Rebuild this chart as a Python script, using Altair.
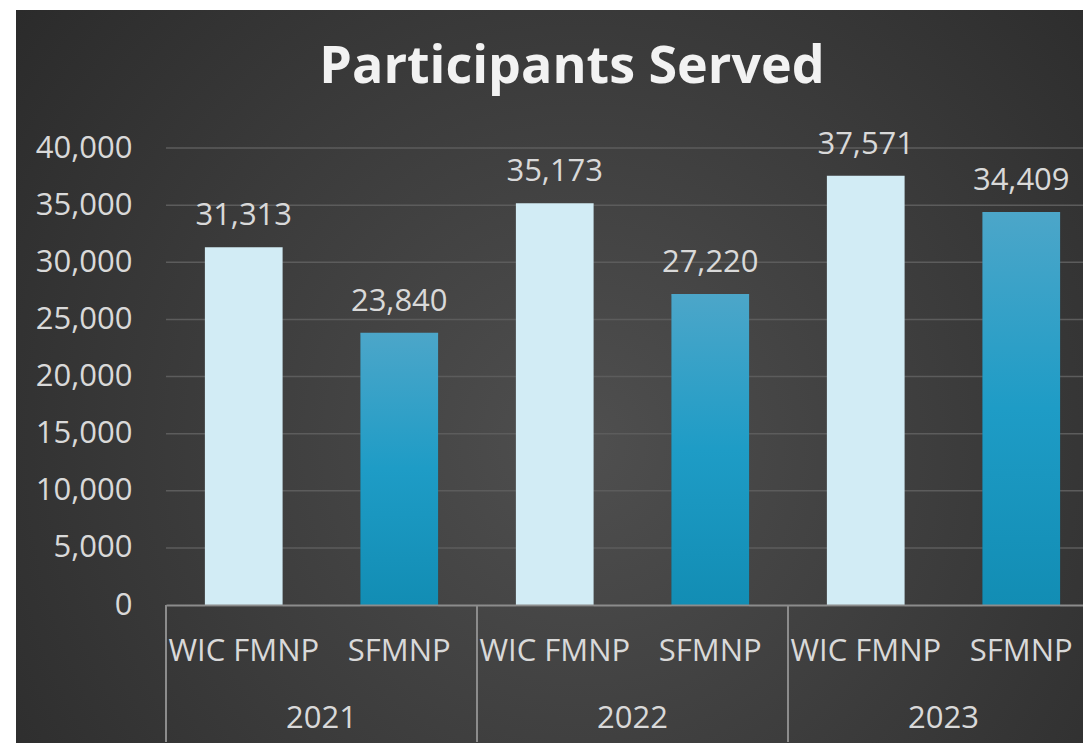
import altair as alt
import pandas as pd

# ---- data ----
years = ["2021", "2021", "2022", "2022", "2023", "2023"]
programs = ["WIC FMNP", "SFMNP", "WIC FMNP", "SFMNP", "WIC FMNP", "SFMNP"]
values = [31313, 23840, 35173, 27220, 37571, 34409]
year_labels = ["2021", "2022", "2023"]
program_order = ["WIC FMNP", "SFMNP"]
y_ticks = [0, 5000, 10000, 15000, 20000, 25000, 30000, 35000, 40000]
title_text = "Participants Served"

df = pd.DataFrame({"year": years, "program": programs, "value": values})
years_df = pd.DataFrame({"year": year_labels})
ticks_df = pd.DataFrame({"value": y_ticks})
one_df = pd.DataFrame({"a": [0]})
title_df = pd.DataFrame({"t": [title_text]})

W, H = 917, 457
FONT = "Open Sans"
TXT = "#d9d9d9"

x_scale = alt.Scale(domain=year_labels, range=[0, 933], paddingInner=0, paddingOuter=0)
xo_scale = alt.Scale(domain=program_order, paddingInner=0.5, paddingOuter=0.25)
y_scale = alt.Scale(domain=[0, 40000], nice=False)

x_axis = alt.Axis(labels=False, ticks=False, domain=True, domainColor="#8c8c8c",
                  domainWidth=2, title=None, grid=False, zindex=1)
y_axis = alt.Axis(values=y_ticks, format=",.0f", grid=False, domain=False, ticks=False,
                  labelPadding=34, labelFont=FONT, labelFontSize=31, labelColor=TXT,
                  title=None, zindex=1)

X = alt.X("year:N", scale=x_scale, sort=year_labels, axis=x_axis)
XO = alt.XOffset("program:N", scale=xo_scale, sort=program_order)
Y = alt.Y("value:Q", scale=y_scale, axis=y_axis)

bg = alt.Chart(one_df).mark_rect(
    fill=alt.RadialGradient(
        gradient="radial",
        stops=[alt.GradientStop(offset=0, color="#4f4f4f"),
               alt.GradientStop(offset=1, color="#242424")],
        x1=0.52, y1=0.55, r1=0, x2=0.52, y2=0.55, r2=0.78),
).encode(x=alt.value(-150), x2=alt.value(940), y=alt.value(-138), y2=alt.value(620))

grid = alt.Chart(ticks_df).transform_filter("datum.value > 0").mark_rule(
    color="#5c5c5c", strokeWidth=1.5
).encode(y=Y, x=alt.value(0), x2=alt.value(940))

shadow = alt.Chart(df).mark_bar(
    fill="#000000", opacity=0.25, xOffset=5, yOffset=2
).encode(x=X, xOffset=XO, y=Y)

wic = alt.Chart(df).transform_filter("datum.program == 'WIC FMNP'").mark_bar(
    fill="#d2ecf5"
).encode(x=X, xOffset=XO, y=Y)

sf = alt.Chart(df).transform_filter("datum.program == 'SFMNP'").mark_bar(
    fill=alt.LinearGradient(
        gradient="linear",
        stops=[alt.GradientStop(offset=0, color="#4ca6c9"),
               alt.GradientStop(offset=0.5, color="#1e9cc6"),
               alt.GradientStop(offset=1, color="#128db4")],
        x1=0, x2=0, y1=0, y2=1),
).encode(x=X, xOffset=XO, y=Y)

vals = alt.Chart(df).mark_text(
    font=FONT, fontSize=31, color=TXT, baseline="alphabetic", dy=-22
).encode(x=X, xOffset=XO, y=Y, text=alt.Text("value:Q", format=","))

sub = alt.Chart(df).mark_text(
    font=FONT, fontSize=31, color=TXT, baseline="alphabetic"
).encode(x=X, xOffset=XO, y=alt.value(513), text="program:N")

yrs = alt.Chart(years_df).mark_text(
    font=FONT, fontSize=31, color=TXT, baseline="alphabetic"
).encode(x=X, y=alt.value(580), text="year:N")

seps = alt.Chart(years_df).mark_rule(color="#8c8c8c", strokeWidth=2).encode(
    x=alt.X("year:N", scale=x_scale, sort=year_labels, axis=x_axis, bandPosition=0),
    y=alt.value(457), y2=alt.value(594))

ttl = alt.Chart(title_df).mark_text(
    font=FONT, fontSize=52, fontWeight="bold", color="#f2f2f2", baseline="alphabetic"
).encode(x=alt.value(406), y=alt.value(-65), text="t:N")

chart = alt.layer(bg, grid, shadow, wic, sf, vals, sub, yrs, seps, ttl).properties(
    width=W, height=H,
    autosize=alt.AutoSizeParams(type="none"),
    padding={"left": 158, "top": 140, "right": 0, "bottom": 138},
    background="white",
).configure_view(stroke=None)

chart.save("out.html", embed_options={"renderer": "svg", "actions": False})
